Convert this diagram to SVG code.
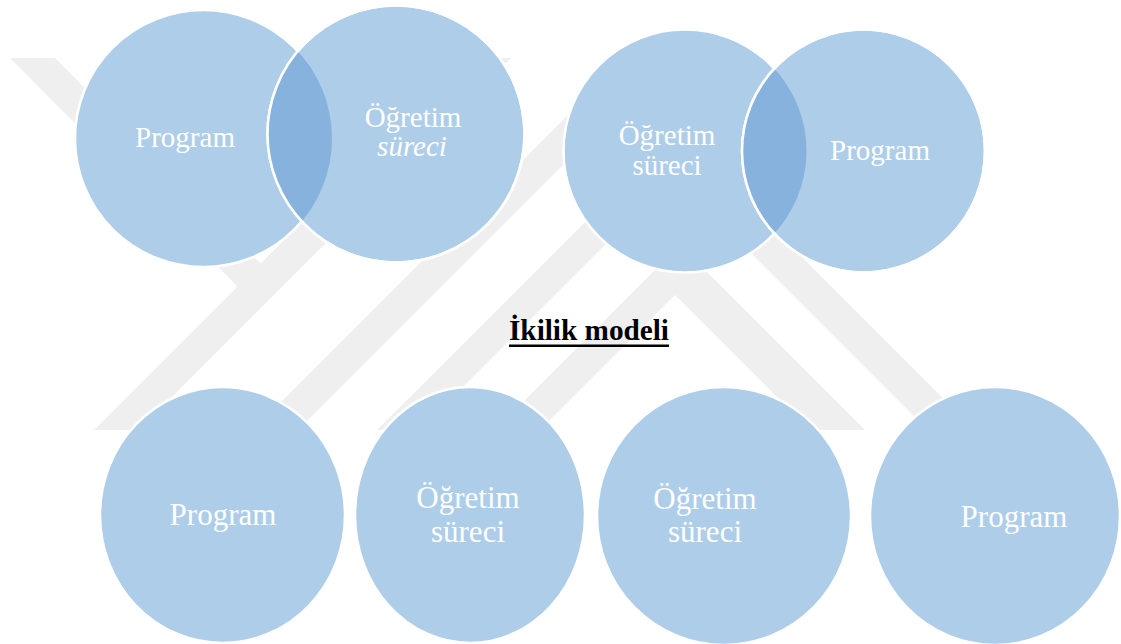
<svg xmlns="http://www.w3.org/2000/svg" width="1121" height="644" viewBox="0 0 1121 644">
  <style>
    .disc { fill: #aecde9; stroke: #ffffff; stroke-width: 2.5; }
    .ring { fill: none; stroke: #ffffff; stroke-width: 2.5; }
    .lens { fill: #86b2dd; }
    .lbl { font-family: "Liberation Serif", "Times New Roman", serif; fill: #ffffff; text-anchor: middle; }
    .top { font-size: 29px; }
    .bot { font-size: 31px; }
    .mark { fill: #efefef; }
    .title { font-family: "Liberation Serif", "Times New Roman", serif; font-weight: bold; font-size: 30px; fill: #000000; text-anchor: middle; }
  </style>
  <defs>
    <clipPath id="clipC2"><circle cx="396" cy="134" r="128.5"/></clipPath>
    <clipPath id="clipC4"><circle cx="863.5" cy="151" r="121.5"/></clipPath>
    <clipPath id="markBand"><rect x="0" y="58" width="1121" height="372"/></clipPath>
  </defs>
  <rect width="1121" height="644" fill="#ffffff"/>

  <!-- faint background emblem made of diagonal stripes -->
  <g id="emblem" clip-path="url(#markBand)">
    <polygon class="mark" points="10,58 55,58 261,264 238,287"/>
    <polygon class="mark" points="466,58 511,58 139,430 94,430"/>
    <polygon class="mark" points="625,58 670,58 298,430 253,430"/>
    <polygon class="mark" points="676,131 377,430 420,430 674,176 928,430 975,430"/>
    <polygon class="mark" points="680,245 495,430 540,430 675,295 810,430 865,430"/>
  </g>

  <g id="connectors"></g>

  <!-- upper left pair -->
  <g id="pairA">
    <g id="pairA-program">
      <circle class="disc" cx="203.5" cy="138.5" r="128.5"/>
    </g>
    <g id="pairA-ogretim">
      <circle class="disc" cx="396" cy="134" r="128.5"/>
    </g>
    <circle class="lens" cx="203.5" cy="138.5" r="128.5" clip-path="url(#clipC2)"/>
    <circle class="ring" cx="396" cy="134" r="128.5"/>
    <text class="lbl top" x="185" y="147">Program</text>
    <text class="lbl top" x="413" y="127">Öğretim</text>
    <text class="lbl top" x="412" y="156" font-style="italic">süreci</text>
  </g>

  <!-- upper right pair -->
  <g id="pairB">
    <g id="pairB-ogretim">
      <circle class="disc" cx="685" cy="151" r="121.5"/>
    </g>
    <g id="pairB-program">
      <circle class="disc" cx="863.5" cy="151" r="121.5"/>
    </g>
    <circle class="lens" cx="685" cy="151" r="121.5" clip-path="url(#clipC4)"/>
    <circle class="ring" cx="863.5" cy="151" r="121.5"/>
    <text class="lbl top" x="667" y="145">Öğretim</text>
    <text class="lbl top" x="667" y="175">süreci</text>
    <text class="lbl top" x="880" y="160">Program</text>
  </g>

  <!-- caption -->
  <g id="caption">
    <text class="title" x="589" y="340" textLength="160" lengthAdjust="spacingAndGlyphs">İkilik modeli</text>
    <rect x="509" y="344.5" width="160" height="2.5" fill="#000000"/>
  </g>

  <!-- separate discs -->
  <g id="disc1">
    <ellipse class="disc" cx="222.5" cy="515" rx="122.5" ry="128"/>
    <text class="lbl bot" x="223" y="525">Program</text>
  </g>
  <g id="disc2">
    <ellipse class="disc" cx="470" cy="515" rx="115" ry="128"/>
    <text class="lbl bot" x="468" y="508">Öğretim</text>
    <text class="lbl bot" x="468" y="542">süreci</text>
  </g>
  <g id="disc3">
    <ellipse class="disc" cx="724" cy="516" rx="127" ry="129"/>
    <text class="lbl bot" x="705" y="509">Öğretim</text>
    <text class="lbl bot" x="705" y="542">süreci</text>
  </g>
  <g id="disc4">
    <ellipse class="disc" cx="995" cy="516" rx="125" ry="129"/>
    <text class="lbl bot" x="1014" y="527">Program</text>
  </g>
</svg>
